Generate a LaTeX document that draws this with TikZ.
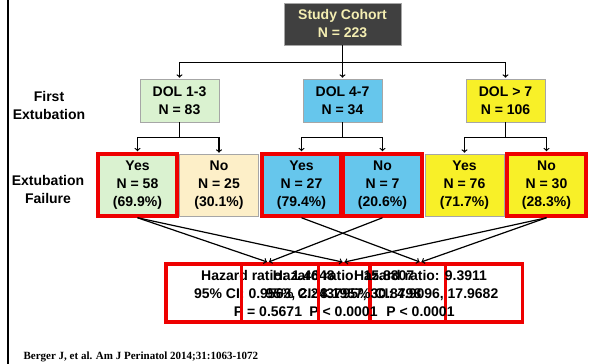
\documentclass[tikz,border=0pt]{standalone}
\usepackage{fontspec}
\setmainfont{Liberation Sans}
\newfontfamily\citefont{Liberation Serif}
\usepackage{tikz}

\definecolor{cohortgray}{RGB}{64,64,64}
\definecolor{cohorttext}{RGB}{244,238,178}
\definecolor{dolgreen}{RGB}{218,242,208}
\definecolor{dolbeige}{RGB}{253,239,200}
\definecolor{dolblue}{RGB}{102,198,236}
\definecolor{dolyellow}{RGB}{248,240,40}
\definecolor{hilite}{RGB}{238,0,0}

\begin{document}
\begin{tikzpicture}[x=1pt,y=-1pt,shorten >=1pt,>=to,line width=1.2pt]
\tikzstyle{box}=[rectangle,draw=gray!70,line width=0.6pt,align=center,inner sep=0pt,font=\fontsize{14}{18}\selectfont\bfseries]
\tikzstyle{dolbox}=[box,minimum width=79pt,minimum height=43pt]
\tikzstyle{failbox}=[box,minimum width=79pt,minimum height=62pt]
\tikzstyle{redline}=[draw=hilite,line width=3.5pt]
\tikzstyle{hrbox}=[redline,align=center,inner sep=0pt,minimum width=204pt,minimum height=58pt,font=\fontsize{14}{18}\selectfont\bfseries]
\tikzstyle{rowlabel}=[align=center,inner sep=0pt,font=\fontsize{14}{18}\selectfont\bfseries]
\useasboundingbox[fill=white] (0,0) rectangle (589,364);

\draw[line width=2pt,shorten >=0pt] (7.5,0) -- (7.5,364);

\node[box,fill=cohortgray,text=cohorttext,minimum width=117pt,minimum height=42pt](S) at (342.5,24) {Study Cohort\\N = 223};

\node[dolbox,fill=dolgreen](D1) at (179.5,100.5) {DOL 1-3\\N = 83};
\node[dolbox,fill=dolblue](D2) at (342.5,100.5) {DOL 4-7\\N = 34};
\node[dolbox,fill=dolyellow](D3) at (505.5,100.5) {DOL > 7\\N = 106};

\node[failbox,fill=dolgreen,redline](Y1) at (137.5,185) {Yes\\N = 58\\(69.9\%)};
\node[failbox,fill=dolbeige](N1) at (219,185) {No\\N = 25\\(30.1\%)};
\node[failbox,fill=dolblue,redline](Y2) at (301.5,185) {Yes\\N = 27\\(79.4\%)};
\node[failbox,fill=dolblue,redline](N2) at (382.5,185) {No\\N = 7\\(20.6\%)};
\node[failbox,fill=dolyellow](Y3) at (464.5,185) {Yes\\N = 76\\(71.7\%)};
\node[failbox,fill=dolyellow,redline](N3) at (546.5,185) {No\\N = 30\\(28.3\%)};

\node[rowlabel](L1) at (49,105) {First\\Extubation};
\node[rowlabel](L2) at (48,189) {Extubation\\Failure};

\draw[->] (S.south) -- ++(0,17) -| (D1.north);
\draw[->] (S.south) -- ++(0,17) -| (D2.north);
\draw[->] (S.south) -- ++(0,17) -| (D3.north);
\draw[->] (D1.south) -- ++(0,15) -| (Y1.north);
\draw[->] (D1.south) -- ++(0,15) -| (N1.north);
\draw[->] (D2.south) -- ++(0,15) -| (Y2.north);
\draw[->] (D2.south) -- ++(0,15) -| (N2.north);
\draw[->] (D3.south) -- ++(0,15) -| (Y3.north);
\draw[->] (D3.south) -- ++(0,15) -| (N3.north);

\node[hrbox](H1) at (268,293) {Hazard ratio: 1.4648\\95\% CI: 0.9563, 2.2437\\P = 0.5671};
\node[hrbox](H2) at (343.5,293) {Hazard ratio: 15.8807\\95\% CI: 8.1957, 30.8798\\P < 0.0001};
\node[hrbox](H3) at (420.5,293) {Hazard ratio: 9.3911\\95\% CI: 4.9096, 17.9682\\P < 0.0001};

\draw[->] (Y1.south) -- (H1.north);
\draw[->] (N2.south) -- (H1.north);
\draw[->] (Y1.south) -- (H2.north);
\draw[->] (N3.south) -- (H2.north);
\draw[->] (Y2.south) -- (H3.north);
\draw[->] (N3.south) -- (H3.north);

\node[anchor=west,inner sep=0pt,font=\citefont\fontsize{11}{13}\selectfont\bfseries](C) at (23,357) {Berger J, et al. Am J Perinatol 2014;31:1063-1072};
\end{tikzpicture}
\end{document}
